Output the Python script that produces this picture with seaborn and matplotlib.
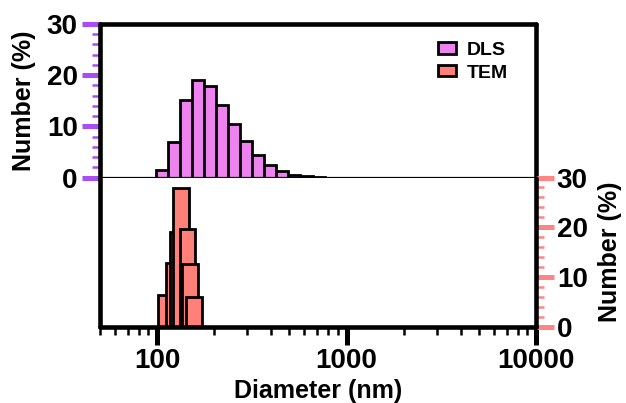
import numpy as np
import matplotlib
matplotlib.use("Agg")
import matplotlib.pyplot as plt
import seaborn as sns
from matplotlib.ticker import FixedLocator, AutoMinorLocator, LogLocator, NullFormatter, FixedFormatter
from matplotlib.patches import Patch

# ---- data ----
dls_size = [105.7, 122.4, 141.8, 164.2, 190.1, 220.2, 255.0, 295.3, 342.0, 396.1, 458.7, 531.2, 615.1, 712.4]
dls_pct = [1.4, 7.0, 15.1, 19.1, 17.8, 14.1, 10.5, 7.2, 4.4, 2.4, 1.2, 0.5, 0.3, 0.1]
tem_size = [110.7, 123.1, 129.3, 134.1, 145.2, 149.7, 157.2]
tem_pct = [6.5, 12.9, 19.1, 27.9, 19.7, 12.7, 6.1]
y_ticks = [0, 10, 20, 30]
x_ticks = [100, 1000, 10000]
x_tick_labels = ["100", "1000", "10000"]
series_names = ["DLS", "TEM"]

# ---- style ----
sns.set_style("white")
plt.rcParams["font.family"] = ["Liberation Sans", "DejaVu Sans"]
plt.rcParams["font.weight"] = "bold"
plt.rcParams["axes.labelweight"] = "bold"
plt.rcParams["text.color"] = "black"
plt.rcParams["axes.labelcolor"] = "black"
plt.rcParams["xtick.labelcolor"] = "black"
plt.rcParams["ytick.labelcolor"] = "black"

violet = "#EE82EE"
salmon = "#FF7F79"
purple_tick = "#AA4DF5"
salmon_tick = "#FF8585"

fig = plt.figure(figsize=(6.26, 4.03), dpi=100)
L, W = 100 / 626, 436 / 626
top_px, mid_px, bot_px = 24, 177.5, 327
ax1 = fig.add_axes([L, 1 - mid_px / 403, W, (mid_px - top_px) / 403])
ax2 = fig.add_axes([L, 1 - bot_px / 403, W, (bot_px - mid_px) / 403])

# DLS histogram (top)
logc = np.log10(dls_size)
step = np.diff(logc).mean()
edges = [float(e) for e in np.concatenate([logc - step / 2, [logc[-1] + step / 2]])]
sns.histplot(x=dls_size, weights=dls_pct, bins=edges, log_scale=True, ax=ax1,
             color=violet, edgecolor="black", linewidth=2, alpha=1)

# TEM bars (bottom)
tem_w = 0.082
for s, p in zip(tem_size, tem_pct):
    c = float(np.log10(s))
    sns.histplot(x=[s], weights=[p], bins=[c - tem_w / 2, c + tem_w / 2], log_scale=True,
                 ax=ax2, color=salmon, edgecolor="black", linewidth=2, alpha=1)

for ax in (ax1, ax2):
    ax.set_xscale("log")
    ax.set_xlim(50, 10000)
    ax.set_ylim(0, 30)
    ax.set_xlabel("")
    ax.set_ylabel("")
    for sp in ax.spines.values():
        sp.set_linewidth(3.3)
        sp.set_color("black")
        sp.set_capstyle("round")

ax1.spines["bottom"].set_linewidth(1.6)
ax2.spines["top"].set_visible(False)

# top axis ticks
ax1.yaxis.set_major_locator(FixedLocator(y_ticks))
ax1.yaxis.set_minor_locator(AutoMinorLocator(5))
ax1.tick_params(axis="y", which="major", left=True, right=False, length=13, width=3.6,
                color=purple_tick, direction="out", labelsize=20, pad=3, labelcolor="black")
ax1.tick_params(axis="y", which="minor", left=True, right=False, length=5.8, width=1.8,
                color=purple_tick, direction="out")
ax1.tick_params(axis="x", which="both", bottom=False, top=False, labelbottom=False)
ax1.set_ylabel("Number (%)", fontsize=18, fontweight="bold", color="black")
ax1.yaxis.label.set_va("center")
ax1.yaxis.set_label_coords(-0.174, 0.5)

# bottom axis ticks
ax2.yaxis.tick_right()
ax2.yaxis.set_label_position("right")
ax2.yaxis.set_major_locator(FixedLocator(y_ticks))
ax2.yaxis.set_minor_locator(AutoMinorLocator(5))
ax2.tick_params(axis="y", which="major", left=False, right=True, length=13, width=3.6,
                color=salmon_tick, direction="out", labelsize=20, pad=2, labelcolor="black")
ax2.tick_params(axis="y", which="minor", left=False, right=True, length=5.8, width=1.8,
                color=salmon_tick, direction="out")
ax2.set_ylabel("Number (%)", fontsize=18, fontweight="bold", rotation=90, color="black")
ax2.yaxis.label.set_va("center")
ax2.yaxis.set_label_coords(1.17, 0.5)

ax2.xaxis.set_major_locator(FixedLocator(x_ticks))
ax2.xaxis.set_major_formatter(FixedFormatter(x_tick_labels))
ax2.xaxis.set_minor_locator(LogLocator(base=10, subs=np.arange(2, 10)))
ax2.xaxis.set_minor_formatter(NullFormatter())
ax2.tick_params(axis="x", which="major", bottom=True, top=False, length=13, width=3.6,
                color="black", direction="out", labelsize=20, pad=2, labelcolor="black")
ax2.tick_params(axis="x", which="minor", bottom=True, top=False, length=5.8, width=1.8,
                color="black", direction="out")
ax2.set_xlabel("Diameter (nm)", fontsize=18, fontweight="bold", color="black")
ax2.xaxis.label.set_va("center")
ax2.xaxis.set_label_coords(0.5, -0.428)

# legend
handles = [Patch(facecolor=violet, edgecolor="black", linewidth=2, label=series_names[0]),
           Patch(facecolor=salmon, edgecolor="black", linewidth=2, label=series_names[1])]
leg = fig.legend(handles=handles, loc="upper left", bbox_to_anchor=(0.6997, 0.896), frameon=False,
                 prop={"weight": "bold", "size": 14}, handlelength=0.9, handleheight=0.5,
                 handletextpad=0.6, labelspacing=0.3, borderpad=0, borderaxespad=0)
for t in leg.get_texts():
    t.set_color("black")

fig.savefig("out.png", dpi=100)
